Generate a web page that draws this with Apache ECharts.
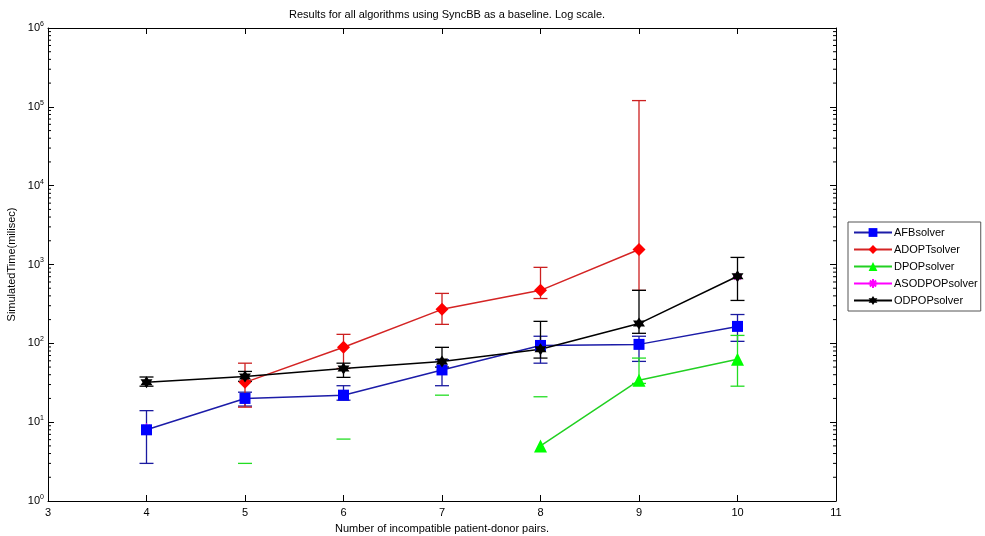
<!DOCTYPE html>
<html>
<head>
<meta charset="utf-8">
<script src="https://cdn.jsdelivr.net/npm/echarts@6/dist/echarts.min.js"></script>
<style>
  html, body { margin: 0; padding: 0; background: #fff; }
  #chart { width: 985px; height: 536px; }
</style>
</head>
<body>
<div id="chart"></div>
<script>
// pairs on the x axis
const pairs = [4, 5, 6, 7, 8, 9, 10]

// mean times (ms), '-' = no point
const afbMean = [8, 20, 22, 46, 94, 97, 164]
const afbLow = [3, 16, 19, 29, 56, 59, 106]
const afbHigh = [14, 24, 29, 62, 123, 123, 232]

const adoptMean = ['-', 32, 89, 270, 470, 1550, '-']
const adoptLow = [null, 15.5, 48, 174, 370, 470, null]
const adoptHigh = [null, 56, 130, 430, 920, 120000, null]

const dpopMean = ['-', '-', '-', '-', 5, 34, 63]
const dpopLow = [null, null, null, null, null, 31, 28.6]
const dpopHigh = [null, 3, 6.1, 22, 21, 65, 126]

const asodMean = [8.5, '-', '-', '-', '-', '-', 700]

const odpopMean = [32, 38, 48, 59, 84, 178, 710]
const odpopLow = [28.6, 33, 37, 50, 65, 134, 350]
const odpopHigh = [37.4, 44, 56, 89, 190, 470, 1230]

// log axis decades and minor tick multipliers
const decades = [0, 1, 2, 3, 4, 5]
const minorSteps = [2, 3, 4, 5, 6, 7, 8, 9]

const FONT = 'Liberation Sans, Arial, sans-serif'

const hexagram = 'path://M0 -10 L2.89 -5 L8.66 -5 L5.77 0 L8.66 5 L2.89 5 L0 10 L-2.89 5 L-8.66 5 L-5.77 0 L-8.66 -5 L-2.89 -5 Z'
const asterisk = 'path://M0 -10 L0 10 M-10 0 L10 0 M-7 -7 L7 7 M-7 7 L7 -7'

function toPoints (ys) {
  return pairs.map((x, i) => [x, ys[i]])
}

function errData (low, high) {
  const out = []
  pairs.forEach((x, i) => {
    if (high[i] != null) out.push([x, high[i], low[i] == null ? -1 : low[i]])
  })
  return out
}

function errSeries (name, color, low, high) {
  return {
    name: name + '-err',
    type: 'custom',
    silent: true,
    data: errData(low, high),
    encode: { x: 0, y: 1 },
    renderItem: function (params, api) {
      const x = api.value(0)
      const hi = api.value(1)
      const lo = api.value(2)
      const top = api.coord([x, hi])
      const w = 7
      const st = { stroke: color, lineWidth: 1.3 }
      const kids = [
        { type: 'line', shape: { x1: top[0] - w, y1: top[1], x2: top[0] + w, y2: top[1] }, style: st }
      ]
      if (lo > 0) {
        const bot = api.coord([x, lo])
        kids.push({ type: 'line', shape: { x1: top[0], y1: top[1], x2: bot[0], y2: bot[1] }, style: st })
        kids.push({ type: 'line', shape: { x1: bot[0] - w, y1: bot[1], x2: bot[0] + w, y2: bot[1] }, style: st })
      }
      return { type: 'group', children: kids }
    }
  }
}

function lineSeries (name, ys, lineColor, markColor, symbol, size) {
  return {
    name: name,
    type: 'line',
    data: toPoints(ys),
    symbol: symbol,
    symbolSize: size,
    connectNulls: false,
    lineStyle: { color: lineColor, width: 1.5 },
    itemStyle: { color: markColor, borderColor: markColor, borderWidth: symbol === asterisk ? 1.2 : 0 },
    emphasis: { disabled: true }
  }
}

const minorTicks = []
decades.forEach(d => minorSteps.forEach(m => minorTicks.push([3, m * Math.pow(10, d)])))

const myChart = echarts.init(document.getElementById('chart'))

const option = {
  animation: false,
  backgroundColor: '#fff',
  textStyle: { fontFamily: FONT },
  title: {
    text: 'Results for all algorithms using SyncBB as a baseline. Log scale.',
    left: 442,
    top: 4,
    textAlign: 'center',
    textStyle: { fontSize: 11, fontWeight: 'normal', color: '#000', fontFamily: FONT }
  },
  legend: {
    data: ['AFBsolver', 'ADOPTsolver', 'DPOPsolver', 'ASODPOPsolver', 'ODPOPsolver'],
    orient: 'vertical',
    left: 848,
    top: 222,
    itemWidth: 38,
    itemHeight: 11,
    itemGap: 6,
    padding: [5, 3, 5, 5],
    borderColor: '#555',
    borderWidth: 1,
    selectedMode: false,
    textStyle: { fontSize: 11, color: '#000', fontFamily: FONT, padding: [0, 0, 0, -3] }
  },
  grid: { left: 48, right: 149, top: 28, bottom: 35, containLabel: false, outerBoundsMode: 'none' },
  xAxis: [
    {
      type: 'value',
      min: 3,
      max: 11,
      interval: 1,
      name: 'Number of incompatible patient-donor pairs.',
      nameLocation: 'middle',
      nameGap: 22,
      nameTextStyle: { fontSize: 11, color: '#000' },
      axisLine: { lineStyle: { color: '#000' } },
      axisTick: { inside: true, length: 6, lineStyle: { color: '#000' } },
      axisLabel: { fontSize: 11, color: '#000', margin: 6, showMinLabel: true, showMaxLabel: true },
      splitLine: { show: false }
    },
    {
      type: 'value',
      position: 'top',
      min: 3,
      max: 11,
      interval: 1,
      axisLine: { show: true, lineStyle: { color: '#000' } },
      axisTick: { inside: true, length: 6, lineStyle: { color: '#000' } },
      axisLabel: { show: false },
      splitLine: { show: false }
    }
  ],
  yAxis: [
    {
      type: 'log',
      logBase: 10,
      min: 1,
      max: 1000000,
      name: 'SimulatedTime(milisec)',
      nameLocation: 'middle',
      nameGap: 30,
      nameTextStyle: { fontSize: 11, color: '#000' },
      axisLine: { show: true, lineStyle: { color: '#000' } },
      axisTick: { inside: true, length: 6, lineStyle: { color: '#000' } },
      axisLabel: {
        color: '#000',
        margin: 4,
        formatter: function (v) {
          return '{b|10}{s|' + Math.round(Math.log10(v)) + '}'
        },
        rich: {
          b: { fontSize: 11, color: '#000', fontFamily: FONT },
          s: { fontSize: 7, color: '#000', fontFamily: FONT, verticalAlign: 'top', padding: [0, 0, 8, 0] }
        }
      },
      splitLine: { show: false }
    },
    {
      type: 'log',
      logBase: 10,
      min: 1,
      max: 1000000,
      position: 'right',
      axisLine: { show: true, lineStyle: { color: '#000' } },
      axisTick: { inside: true, length: 6, lineStyle: { color: '#000' } },
      axisLabel: { show: false },
      splitLine: { show: false }
    }
  ],
  series: [
    {
      name: 'minor',
      type: 'custom',
      silent: true,
      data: minorTicks,
      encode: { x: 0, y: 1 },
      renderItem: function (params, api) {
        const v = api.value(1)
        const l = api.coord([3, v])
        const r = api.coord([11, v])
        const st = { stroke: '#000', lineWidth: 1 }
        return {
          type: 'group',
          children: [
            { type: 'line', shape: { x1: l[0], y1: l[1], x2: l[0] + 3, y2: l[1] }, style: st },
            { type: 'line', shape: { x1: r[0] - 3, y1: r[1], x2: r[0], y2: r[1] }, style: st }
          ]
        }
      }
    },
    // drawn first so the other markers cover it, as in the original figure
    lineSeries('ASODPOPsolver', asodMean, '#ff00ff', '#ff00ff', asterisk, 9),
    errSeries('AFBsolver', '#1a1aa0', afbLow, afbHigh),
    lineSeries('AFBsolver', afbMean, '#1c1ca8', '#0000ff', 'rect', 11),
    errSeries('ADOPTsolver', '#cc2020', adoptLow, adoptHigh),
    lineSeries('ADOPTsolver', adoptMean, '#d42424', '#ff0000', 'diamond', 13),
    errSeries('DPOPsolver', '#22dd22', dpopLow, dpopHigh),
    lineSeries('DPOPsolver', dpopMean, '#22d022', '#00ff00', 'triangle', 13),
    errSeries('ODPOPsolver', '#000', odpopLow, odpopHigh),
    lineSeries('ODPOPsolver', odpopMean, '#000', '#000', hexagram, 12)
  ]
}

myChart.setOption(option)
</script>
</body>
</html>
